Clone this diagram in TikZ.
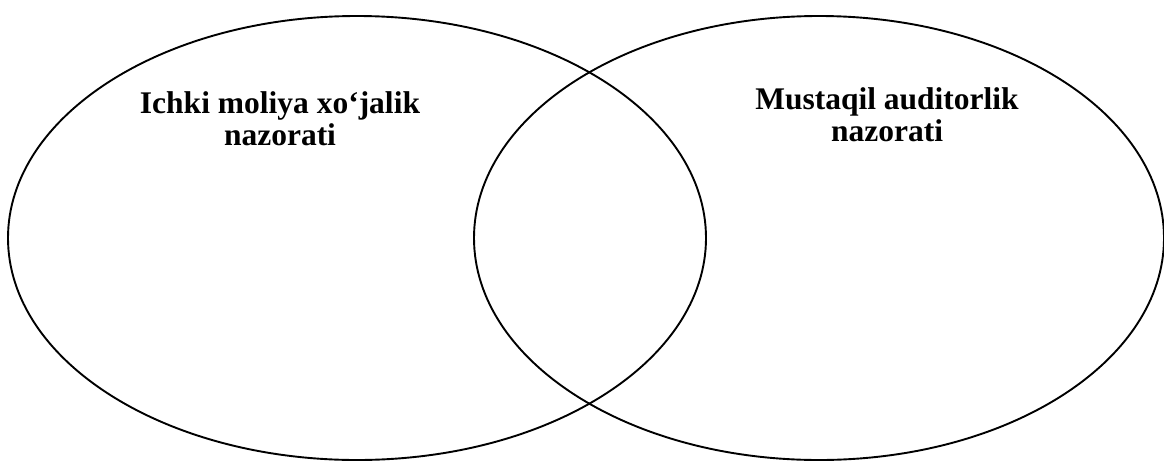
\documentclass[tikz,border=0pt]{standalone}
\usepackage{fontspec}
\setmainfont{Liberation Serif}
\begin{document}
\begin{tikzpicture}[x=1pt,y=-1pt,
  ring/.style={draw=black,line width=1.9pt},
  label/.style={align=center,inner sep=0pt,font=\bfseries\fontsize{31.5}{32}\selectfont,anchor=base}]
\useasboundingbox (0,0) rectangle (1164,461);
\draw[ring] (357,238) ellipse [x radius=349, y radius=222];
\draw[ring] (819,238) ellipse [x radius=345, y radius=222];
\node[label] (left) at (280,145) {Ichki moliya xo‘jalik\\nazorati};
\node[label] (right) at (887,141) {Mustaqil auditorlik\\nazorati};
\end{tikzpicture}
\end{document}
